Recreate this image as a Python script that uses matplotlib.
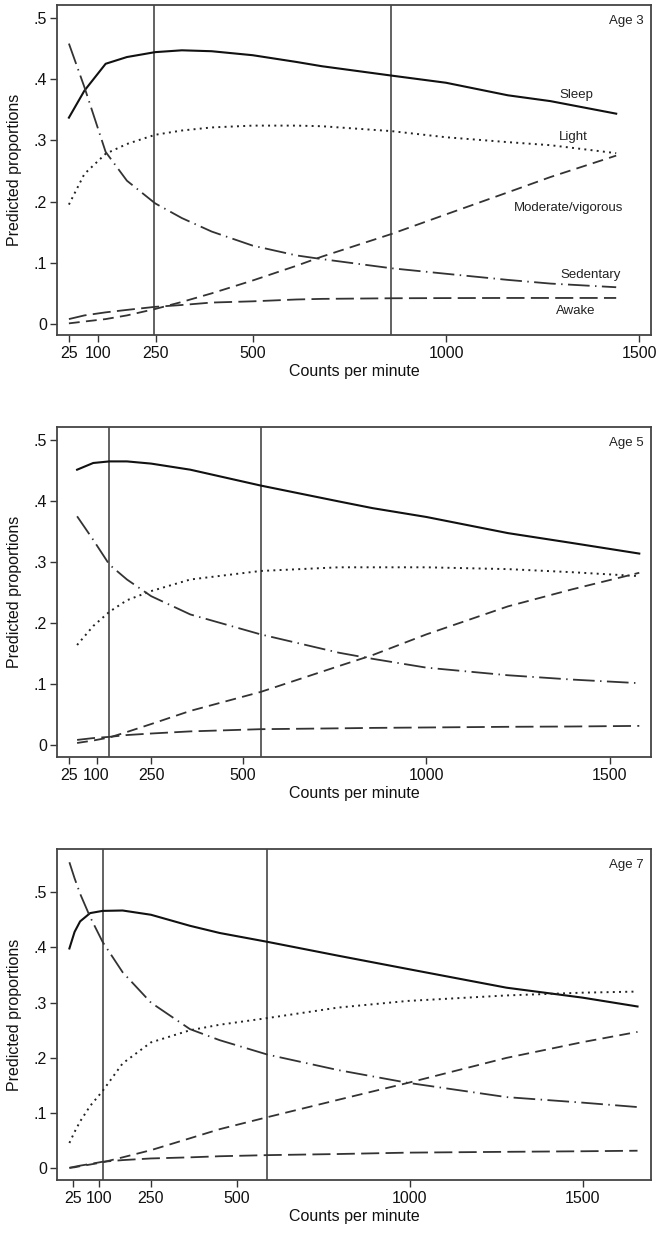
import matplotlib
matplotlib.use("Agg")
import matplotlib.pyplot as plt
from matplotlib.ticker import FuncFormatter

plt.rcParams['font.family'] = ['Liberation Sans', 'DejaVu Sans']

# ---- data ----
# Age 3
cpm3 = [25, 65, 120, 175, 248, 317, 394, 500, 613, 679, 859, 1000, 1160, 1270, 1440]
sleep3 = [0.337, 0.381, 0.425, 0.436, 0.444, 0.447, 0.4455, 0.439, 0.428, 0.421, 0.4057, 0.394, 0.3735, 0.364, 0.3435]
light3 = [0.195, 0.245, 0.278, 0.294, 0.309, 0.316, 0.321, 0.324, 0.324, 0.323, 0.315, 0.305, 0.297, 0.292, 0.279]
sed3 = [0.458, 0.387, 0.281, 0.234, 0.197, 0.173, 0.151, 0.128, 0.112, 0.106, 0.091, 0.082, 0.072, 0.066, 0.060]
mvpa3 = [0.001, 0.004, 0.008, 0.014, 0.0245, 0.036, 0.050, 0.071, 0.095, 0.110, 0.147, 0.179, 0.215, 0.240, 0.275]
awake3 = [0.008, 0.014, 0.019, 0.023, 0.028, 0.031, 0.035, 0.037, 0.040, 0.041, 0.042, 0.0423, 0.0425, 0.0425, 0.0425]
vlines3 = [245, 859]

# Age 5
cpm5 = [47, 91, 135, 183, 249, 356, 548, 761, 853, 1000, 1223, 1396, 1581]
sleep5 = [0.451, 0.462, 0.4646, 0.4646, 0.461, 0.451, 0.425, 0.399, 0.388, 0.3735, 0.347, 0.331, 0.3135]
light5 = [0.1636, 0.1947, 0.218, 0.237, 0.252, 0.271, 0.285, 0.291, 0.291, 0.291, 0.288, 0.283, 0.2765]
sed5 = [0.3746, 0.336, 0.2955, 0.271, 0.2437, 0.2137, 0.181, 0.151, 0.141, 0.1265, 0.114, 0.107, 0.101]
mvpa5 = [0.003, 0.007, 0.012, 0.021, 0.034, 0.0556, 0.0867, 0.129, 0.147, 0.181, 0.227, 0.2546, 0.282]
awake5 = [0.008, 0.011, 0.013, 0.016, 0.0185, 0.022, 0.0256, 0.027, 0.0277, 0.0284, 0.0295, 0.030, 0.031]
vlines5 = [135, 548]

# Age 7
cpm7 = [15, 30, 46, 75, 111, 169, 251, 364, 450, 588, 792, 993, 1280, 1500, 1659]
sleep7 = [0.398, 0.428, 0.447, 0.462, 0.466, 0.4667, 0.459, 0.439, 0.426, 0.410, 0.385, 0.361, 0.327, 0.309, 0.293]
light7 = [0.046, 0.066, 0.085, 0.113, 0.140, 0.190, 0.228, 0.250, 0.260, 0.272, 0.291, 0.303, 0.313, 0.318, 0.320]
sed7 = [0.554, 0.525, 0.497, 0.455, 0.410, 0.355, 0.300, 0.252, 0.232, 0.206, 0.178, 0.155, 0.129, 0.119, 0.111]
mvpa7 = [0.001, 0.002, 0.004, 0.007, 0.011, 0.020, 0.033, 0.0545, 0.071, 0.0927, 0.124, 0.1545, 0.200, 0.2285, 0.247]
awake7 = [0.001, 0.003, 0.005, 0.008, 0.012, 0.015, 0.018, 0.020, 0.022, 0.024, 0.026, 0.0285, 0.030, 0.031, 0.032]
vlines7 = [111, 588]

xticks = [25, 100, 250, 500, 1000, 1500]
age_labels = ["Age 3", "Age 5", "Age 7"]
series_names = ["Sleep", "Light", "Moderate/vigorous", "Sedentary", "Awake"]
# label anchors for the Age 3 panel
label_x = [1336, 1329, 1318, 1373, 1335]
label_y = [0.374, 0.305, 0.190, 0.080, 0.022]

panels = [
    (cpm3, sleep3, light3, mvpa3, sed3, awake3, vlines3, (-5, 1530), (-0.018, 0.521)),
    (cpm5, sleep5, light5, mvpa5, sed5, awake5, vlines5, (-7, 1613), (-0.020, 0.521)),
    (cpm7, sleep7, light7, mvpa7, sed7, awake7, vlines7, (-20, 1698), (-0.021, 0.578)),
]

W, H = 664, 1236
fig = plt.figure(figsize=(W / 100, H / 100), dpi=100)
boxes = [(5, 335), (427, 757), (849, 1180)]
left, right = 57.3, 651

styles = [
    dict(color='#111111', lw=1.5, linestyle='-'),
    dict(color='#222222', lw=1.4, linestyle=(0, (1, 2.2))),
    dict(color='#333333', lw=1.3, linestyle=(0, (6, 3.5))),
    dict(color='#333333', lw=1.3, linestyle=(0, (12, 3, 0.8, 3))),
    dict(color='#333333', lw=1.3, linestyle=(0, (10, 3.5))),
]

for i, (cpm, sl, li, mv, se, aw, vl, xl, yl) in enumerate(panels):
    top, bot = boxes[i]
    ax = fig.add_axes([left / W, 1 - bot / H, (right - left) / W, (bot - top) / H])
    for v in vl:
        ax.axvline(v, color='#555555', lw=1.3, zorder=1)
    for ys, st in zip([sl, li, mv, se, aw], styles):
        ax.plot(cpm, ys, zorder=2, **st)
    ax.set_xlim(*xl)
    ax.set_ylim(*yl)
    ax.set_xticks(xticks)
    ax.set_xticklabels([str(t) for t in xticks])
    ax.set_yticks([0, 0.1, 0.2, 0.3, 0.4, 0.5])
    ax.yaxis.set_major_formatter(FuncFormatter(
        lambda v, p: '0' if abs(v) < 1e-9 else ('%.1f' % v).lstrip('0')))
    ax.tick_params(axis='both', direction='out', length=5, width=1.0,
                   color='#333333', labelsize=11.5, labelcolor='#111111')
    ax.tick_params(axis='y', pad=2.5)
    ax.tick_params(axis='x', pad=3)
    for s in ax.spines.values():
        s.set_color('#444444')
        s.set_linewidth(1.3)
    ax.set_xlabel("Counts per minute", fontsize=11.5, labelpad=2, color='#111111')
    ax.set_ylabel("Predicted proportions", fontsize=11.5, labelpad=8, color='#111111')
    ax.text(0.988, 0.97, age_labels[i], transform=ax.transAxes, ha='right', va='top',
            fontsize=9.5, color='#222222')
    if i == 0:
        for name, lx, ly in zip(series_names, label_x, label_y):
            ax.text(lx, ly, name, ha='center', va='center', fontsize=9.5, color='#222222')

fig.savefig("out.png", dpi=100)
